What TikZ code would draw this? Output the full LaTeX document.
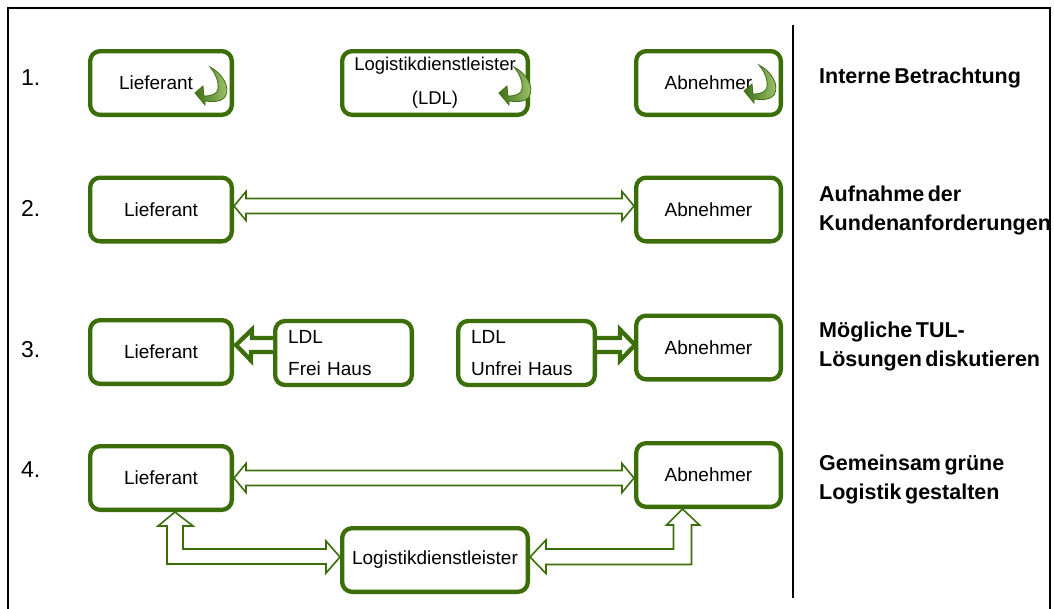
\documentclass[tikz,border=0pt]{standalone}
\usepackage{fontspec}
\setmainfont{Liberation Sans}
\usetikzlibrary{calc,arrows.meta}
\definecolor{boxgreen}{RGB}{59,110,8}
\definecolor{curldark}{RGB}{62,112,22}
\definecolor{curllight}{RGB}{168,204,118}
\newcommand{\narrowspaces}{\spaceskip=3.5pt plus 1pt minus 0.5pt\relax}

\begin{document}
\begin{tikzpicture}[x=1pt,y=-1pt,
  box/.style={draw=boxgreen, line width=4.3pt, rounded corners=10pt, fill=white,
    inner sep=0pt, font=\fontsize{19}{23}\selectfont},
  widebox/.style={box, minimum width=185.7pt, minimum height=63.7pt},
  partybox/.style={box, minimum width=141.7pt, minimum height=63.7pt},
  ldlbox/.style={box, text width=110.7pt, inner xsep=13pt, align=left,
    minimum height=64pt, font=\fontsize{19}{32}\selectfont},
  hollow/.style={draw=boxgreen, line width=1.6pt, fill=white, line join=miter},
  fatarrow/.style={draw=boxgreen, line width=4.3pt, fill=white, line join=miter},
  num/.style={anchor=west, inner sep=0pt, font=\fontsize{23}{27}\selectfont},
  rlabel/.style={anchor=west, align=left, inner sep=0pt,
    font=\fontsize{21.5}{29}\selectfont\bfseries\narrowspaces},
  curl/.pic={
    % curled ribbon arrow turning back on itself
    \draw[curldark, line width=0.8pt, line join=miter, left color=curldark, right color=curllight]
      (0,0) .. controls (12,6) and (21,20) .. (15,30)
      .. controls (11,35) and (4,35) .. (-5,34) -- (-5,38) -- (-15,26) -- (-7,19)
      -- (-6,29) .. controls (2,29) and (7,27) .. (8,22)
      .. controls (9,14) and (5,6) .. (0,0) -- cycle;
  }
]
\useasboundingbox (0,0) rectangle (1054,608);
\clip (0,0) rectangle (1054,608);

% frame and column divider
\draw[line width=1.6pt] (8,615) -- (8,8) -- (1050,8) -- (1050,615);
\draw[line width=1.5pt] (793,25) -- (793,598);

% step numbers
\node[num] (n1) at (21,78) {1.};
\node[num] (n2) at (21,208) {2.};
\node[num] (n3) at (21,350) {3.};
\node[num] (n4) at (21,470) {4.};

% step descriptions
\node[rlabel] (t1) at (819,78) {Interne Betrachtung};
\node[rlabel] (t2) at (819,210) {Aufnahme der\\Kundenanforderungen};
\node[rlabel] (t3) at (819,346) {Mögliche TUL-\\Lösungen diskutieren};
\node[rlabel] (t4) at (819,479) {Gemeinsam grüne\\Logistik gestalten};

% step 1: each party looks at itself
\node[partybox] (L1) at (161,83) {Lieferant\hspace*{10pt}};
\node[widebox, align=center, font=\fontsize{18.5}{34}\selectfont] (M1) at (435,83) {Logistikdienstleister\\(LDL)};
\node[partybox, minimum width=144.7pt] (A1) at (708.5,83) {Abnehmer};
\pic at ($(L1.north east)+(-24,18)$) {curl};
\pic at ($(M1.north east)+(-16,18)$) {curl};
\pic at ($(A1.north east)+(-24,16)$) {curl};

% step 2: supplier and customer
\node[partybox] (L2) at (161,209.5) {Lieferant};
\node[partybox, minimum width=144.7pt] (A2) at (708.5,209.5) {Abnehmer};
\coordinate (a2) at ($(L2.east)+(0,-3.5)$);
\coordinate (b2) at ($(A2.west)+(0,-3.5)$);
\draw[hollow] (a2) -- ++(12,-14.5) -- ++(0,7) -- ($(b2)+(-12,-7.5)$) -- ++(0,-7)
  -- (b2) -- ++(-12,14.5) -- ++(0,-7) -- ($(a2)+(12,7.5)$) -- ++(0,7) -- cycle;

% step 3: possible transport solutions
\node[partybox] (L3) at (161,352) {Lieferant};
\node[ldlbox] (F3) at (343.5,353) {LDL\\Frei Haus};
\node[ldlbox] (U3) at (526.5,353) {LDL\\Unfrei Haus};
\node[partybox, minimum width=144.7pt] (A3) at (708.5,347.5) {Abnehmer};
\coordinate (lt3) at ($(L3.east)+(2,-7)$);
\coordinate (at3) at ($(A3.west)+(1,-2.5)$);
\draw[fatarrow] ($(F3.west)+(0,-15)$) -- ++(-21,0) -- ++(0,-8.5) -- (lt3)
  -- ++(15,15.5) -- ++(0,-8.5) -- ($(F3.west)+(0,-1)$);
\draw[fatarrow] ($(U3.east)+(0,-15)$) -- ++(23,0) -- ++(0,-8.5) -- (at3)
  -- ++(-15,15.5) -- ++(0,-8.5) -- ($(U3.east)+(0,-1)$);

% step 4: shaping green logistics together
\node[partybox] (L4) at (161,478) {Lieferant};
\node[partybox, minimum width=144.7pt] (A4) at (708.5,475) {Abnehmer};
\node[widebox] (M4) at (435,560) {Logistikdienstleister};
\coordinate (a4) at (L4.east);
\coordinate (b4) at (A4.west |- L4.east);
\draw[hollow] (a4) -- ++(12,-14.5) -- ++(0,7) -- ($(b4)+(-12,-7.5)$) -- ++(0,-7)
  -- (b4) -- ++(-12,14.5) -- ++(0,-7) -- ($(a4)+(12,7.5)$) -- ++(0,7) -- cycle;
\coordinate (ltip) at ($(L4.south)+(14,0)$);
\coordinate (mtip) at ($(M4.west)+(0,-3)$);
\draw[hollow] (ltip) -- ++(18,14) -- ++(-10,0) |- ($(mtip)+(-14,-8)$) -- ++(0,-8)
  -- (mtip) -- ++(-14,16) -- ++(0,-9) -| ($(ltip)+(-8,14)$) -- ++(-9,0) -- cycle;
\coordinate (rtip) at ($(A4.south)+(-26,0)$);
\coordinate (ntip) at ($(M4.east)+(0,-3)$);
\draw[hollow] (ntip) -- ++(16,-17) -- ++(0,9) -| ($(rtip)+(-9,16)$) -- ++(-7,0)
  -- (rtip) -- ++(17,16) -- ++(-8,0) |- ($(ntip)+(16,7.5)$) -- ++(0,9) -- cycle;
\end{tikzpicture}
\end{document}
